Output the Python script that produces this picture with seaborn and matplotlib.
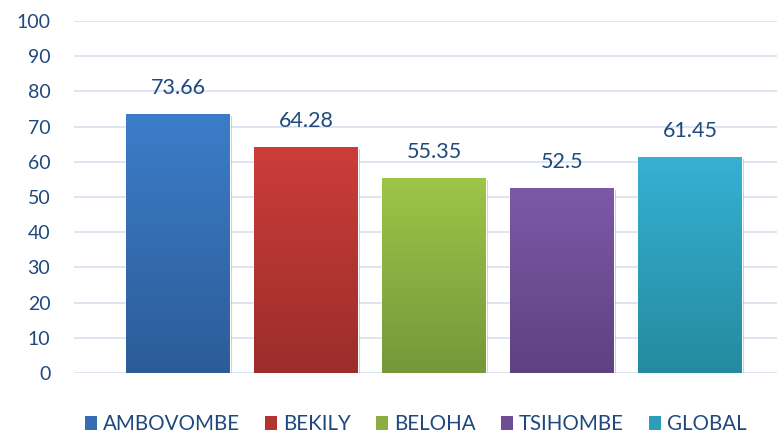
import numpy as np
import pandas as pd
import seaborn as sns
import matplotlib.pyplot as plt
import matplotlib.patheffects as pe
from matplotlib.colors import LinearSegmentedColormap, to_rgb
from matplotlib.patches import Patch

districts = ["AMBOVOMBE", "BEKILY", "BELOHA", "TSIHOMBE", "GLOBAL"]
scores = [73.66, 64.28, 55.35, 52.5, 61.45]
score_labels = ["73.66", "64.28", "55.35", "52.5", "61.45"]
top_colors = ["#3C7DC9", "#CC3D3A", "#9DC548", "#7D58A8", "#35B1D4"]
bottom_colors = ["#2C5C98", "#9B2D2A", "#76973A", "#5E4280", "#258A9F"]

text_color = "#1F497D"

sns.set_theme(style="white")
plt.rcParams["font.family"] = ["Lato", "DejaVu Sans"]

df = pd.DataFrame({"district": districts, "score": scores})

fig = plt.figure(figsize=(7.77, 4.34), dpi=100)
ax = fig.add_axes([0.0952, 0.1406, 0.9048, 0.811])

sns.barplot(data=df, x="district", y="score", hue="district",
            palette=top_colors, width=0.8125, legend=False, ax=ax,
            saturation=1)

# vertical gradient on each bar, clipped to the bar shape
for bar, c_top, c_bot in zip(ax.patches, top_colors, bottom_colors):
    bar.set_path_effects([pe.SimplePatchShadow(offset=(1.5, -1.5), alpha=0.25),
                          pe.Normal()])
    x0, y0 = bar.get_x(), bar.get_y()
    w, h = bar.get_width(), bar.get_height()
    cmap = LinearSegmentedColormap.from_list("g", [to_rgb(c_bot), to_rgb(c_top)])
    grad = np.linspace(0, 1, 256).reshape(-1, 1)
    im = ax.imshow(grad, cmap=cmap, aspect="auto", origin="lower",
                   extent=[x0, x0 + w, y0, y0 + h], zorder=bar.get_zorder() + 0.1)
    im.set_clip_path(bar)

for i, (v, lab) in enumerate(zip(scores, score_labels)):
    ax.annotate(lab, (i, v), xytext=(0, 18.5), textcoords="offset points",
                ha="center", va="center", fontsize=15.5, color=text_color)

ax.set_xlim(-0.8125, 4.68)
ax.set_ylim(0, 100)
ax.set_yticks(range(0, 101, 10))
ax.set_xticks([])
ax.set_xlabel("")
ax.set_ylabel("")
ax.yaxis.grid(True, color="#D5E0EE", linewidth=1.2)
ax.set_axisbelow(True)
ax.tick_params(axis="y", length=0, pad=17, labelsize=14, labelcolor=text_color)
sns.despine(ax=ax, left=True, bottom=True)

mid_colors = [tuple((np.array(to_rgb(a)) + np.array(to_rgb(b))) / 2)
              for a, b in zip(top_colors, bottom_colors)]
handles = [Patch(facecolor=c, edgecolor="none") for c in mid_colors]
fig.legend(handles, districts, loc="center", bbox_to_anchor=(0.535, 0.022),
           ncol=5, frameon=False, fontsize=14.8, labelcolor=text_color,
           handlelength=0.6, handleheight=0.65, handletextpad=0.3,
           columnspacing=1.2)

fig.savefig("out.png", dpi=100)
